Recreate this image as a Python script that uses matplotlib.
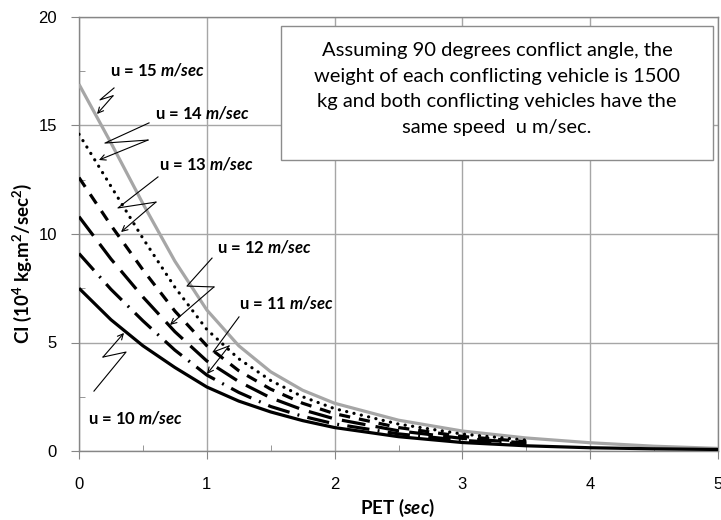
import matplotlib.pyplot as plt
from matplotlib.patches import Rectangle
from matplotlib.ticker import MultipleLocator

plt.rcParams['font.family'] = ['Lato', 'DejaVu Sans']
plt.rcParams['mathtext.fontset'] = 'custom'
plt.rcParams['mathtext.rm'] = 'Lato'
plt.rcParams['mathtext.bf'] = 'Lato:bold'
plt.rcParams['mathtext.it'] = 'Lato:italic'
plt.rcParams['mathtext.bfit'] = 'Lato:italic:bold'

# PET (sec)
pet = [0, 0.25, 0.5, 0.75, 1, 1.25, 1.5, 1.75, 2, 2.5, 3, 3.5, 4, 4.5, 5]

# CI (10^4 kg.m2/sec2)
ci_u15 = [16.9, 14.2, 11.4, 8.75, 6.5, 4.85, 3.65, 2.8, 2.2, 1.42, 0.92, 0.6, 0.38, 0.22, 0.12]
ci_u14 = [14.6, 12.2, 9.8, 7.55, 5.6, 4.25, 3.25, 2.5, 1.95, 1.24, 0.78, 0.5]
ci_u13 = [12.6, 10.4, 8.35, 6.45, 4.85, 3.7, 2.85, 2.2, 1.72, 1.08, 0.67, 0.43]
ci_u12 = [10.8, 8.85, 7.1, 5.5, 4.15, 3.2, 2.45, 1.9, 1.48, 0.93, 0.58, 0.37]
ci_u11 = [9.1, 7.45, 6.0, 4.65, 3.5, 2.7, 2.05, 1.6, 1.25, 0.79, 0.49, 0.31]
ci_u10 = [7.5, 6.05, 4.85, 3.85, 2.95, 2.3, 1.8, 1.4, 1.08, 0.66, 0.39, 0.24, 0.15, 0.1, 0.07]

speeds = [15, 14, 13, 12, 11, 10]
series = [ci_u15, ci_u14, ci_u13, ci_u12, ci_u11, ci_u10]
colors = ['#a6a6a6', 'black', 'black', 'black', 'black', 'black']
styles = ['-', (0, (0.05, 2.3)), (0, (3.5, 2.8)), (0, (7.5, 3.2)), (0, (7, 2.6, 0.6, 2.6)), '-']
caps = ['butt', 'round', 'butt', 'butt', 'butt', 'butt']

# callout label positions and zigzag leader lines (data units)
label_pos = [(0.243, 17.56), (0.595, 15.58), (0.626, 13.22), (1.08, 9.40), (1.252, 6.82), (0.07, 1.52)]
leaders = [
    [(0.274, 16.73), (0.164, 16.18), (0.266, 16.37), (0.141, 15.53)],
    [(0.548, 15.12), (0.203, 14.19), (0.540, 14.33), (0.156, 13.41)],
    [(0.618, 12.63), (0.305, 11.20), (0.602, 11.47), (0.329, 10.09)],
    [(1.041, 8.89), (0.845, 7.60), (1.056, 7.56), (0.712, 5.81)],
    [(1.252, 6.18), (1.049, 4.56), (1.174, 4.84), (1.002, 3.55)],
    [(0.117, 2.76), (0.368, 4.56), (0.188, 4.33), (0.352, 5.44)],
]

note = ('Assuming 90 degrees conflict angle, the\n'
        'weight of each conflicting vehicle is 1500\n'
        'kg and both conflicting vehicles have the\n'
        'same speed  u m/sec.')

W, H = 721, 520
fig = plt.figure(figsize=(W / 100, H / 100), dpi=100)
ax = fig.add_axes([79 / W, 1 - 451 / H, (718 - 79) / W, (451 - 17) / H])

for vals, c, ls, cap in zip(series, colors, styles, caps):
    ax.plot(pet[:len(vals)], vals, color=c, lw=2.3, linestyle=ls,
            dash_capstyle=cap, solid_capstyle='butt', solid_joinstyle='round', zorder=3)

for u, (lx, ly), pts in zip(speeds, label_pos, leaders):
    ax.text(lx, ly, 'u = %d $\\mathbfit{m/sec}$' % u, fontsize=12, fontweight='bold',
            ha='left', va='center', zorder=4)
    xs = [p[0] for p in pts[:-1]]
    ys = [p[1] for p in pts[:-1]]
    ax.plot(xs, ys, color='black', lw=0.8, zorder=4)
    ax.annotate('', xy=pts[-1], xytext=pts[-2],
                arrowprops=dict(arrowstyle='->', lw=0.8, color='black',
                                shrinkA=0, shrinkB=0, mutation_scale=10), zorder=4)

ax.set_xlim(0, 5)
ax.set_ylim(0, 20)
ax.xaxis.set_major_locator(MultipleLocator(1))
ax.xaxis.set_minor_locator(MultipleLocator(0.5))
ax.yaxis.set_major_locator(MultipleLocator(5))
ax.yaxis.set_minor_locator(MultipleLocator(2.5))
ax.grid(True, which='major', color='#a6a6a6', lw=1)
ax.set_axisbelow(True)
ax.tick_params(which='major', direction='out', length=6, color='#868686',
               labelsize=12, labelfontfamily='Liberation Sans')
ax.tick_params(axis='x', which='major', pad=13)
ax.tick_params(axis='y', which='major', pad=10)
ax.tick_params(which='minor', direction='in', length=4, color='#868686')
for s in ax.spines.values():
    s.set_color('#868686')
    s.set_linewidth(1)

# note box
ax.add_patch(Rectangle((281 / W, 1 - 160 / H), (713 - 281) / W, (160 - 26) / H,
                       transform=fig.transFigure, fc='white', ec='#8c8c8c', lw=1,
                       zorder=5, clip_on=False))
fig.text(497 / W, 1 - 89 / H, note, ha='center', va='center', multialignment='center',
         fontsize=14.5, linespacing=1.62, zorder=6)

fig.text(22 / W, 1 - 263 / H, 'CI (10$^{\\mathbf{4}}$ kg.m$^{\\mathbf{2}}$/sec$^{\\mathbf{2}}$)',
         rotation=90, ha='center', va='center', fontsize=13.5, fontweight='bold')
fig.text(398 / W, 1 - 508 / H, 'PET ($\\mathbfit{sec}$)', ha='center', va='center',
         fontsize=13.5, fontweight='bold')

fig.savefig('out.png', dpi=100)
